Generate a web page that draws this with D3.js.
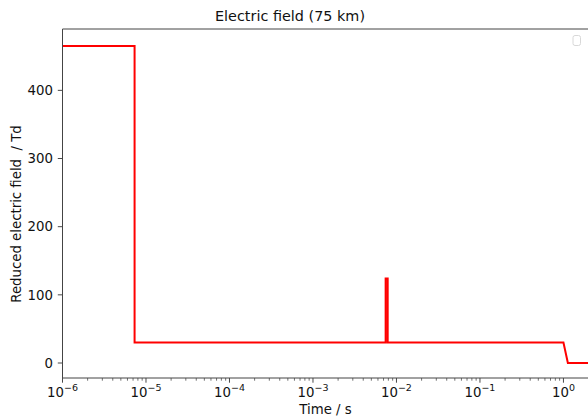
<!DOCTYPE html>
<html><head><meta charset="utf-8">
<script src="https://cdn.jsdelivr.net/npm/d3@7"></script>
<style>body{margin:0;background:#fff}svg{font-family:"DejaVu Sans",sans-serif}</style>
</head><body><svg id="c" width="588" height="419"></svg>
<script>
const times = [1e-6, 7.3e-6, 7.3e-6, 7.42e-3, 7.42e-3, 7.85e-3, 7.85e-3, 1.0, 1.13, 2.2];
const field = [465, 465, 30, 30, 124, 124, 30, 30, 0, 0];
const xTickExps = [-6, -5, -4, -3, -2, -1, 0];
const yTicks = [0, 100, 200, 300, 400];
const title = "Electric field (75 km)";
const xLabel = "Time / s";
const yLabel = "Reduced electric field  / Td";

const L = 62.5, R = 590, T = 29, B = 378;
const svg = d3.select("#c");
const x = d3.scaleLog().domain([1e-6, 2.08]).range([L, R]);
const y = d3.scaleLinear().domain([-22, 490]).range([B, T]);

const g = svg.append("g");
g.append("clipPath").attr("id","clip").append("rect").attr("x",L).attr("y",T).attr("width",R-L).attr("height",B-T);
g.append("path").datum(times.map((t,i)=>[t,field[i]]))
  .attr("clip-path","url(#clip)")
  .attr("fill","none").attr("stroke","#ff0000").attr("stroke-width",2).attr("stroke-linejoin","miter")
  .attr("d", d3.line().x(d=>x(d[0])).y(d=>y(d[1])));

const minor = [];
for (let e=-6;e<=0;e++) for (let k=2;k<=9;k++){const v=k*Math.pow(10,e); if (v<=2.08) minor.push(v);}
g.selectAll(".mn").data(minor).enter().append("line")
  .attr("x1",d=>x(d)).attr("x2",d=>x(d)).attr("y1",B).attr("y2",B+2.7)
  .attr("stroke","#333").attr("stroke-width",0.7);
xTickExps.forEach(e=>{
  const px = x(Math.pow(10,e));
  g.append("line").attr("x1",px).attr("x2",px).attr("y1",B).attr("y2",B+4.7).attr("stroke","#333").attr("stroke-width",0.9);
  const t = g.append("text").attr("x",px).attr("y",B+19).attr("text-anchor","middle").attr("font-size",13.3).attr("fill","#111");
  t.append("tspan").text("10");
  t.append("tspan").attr("dy",-6).attr("font-size",9.5).text(e<0?"\u2212"+(-e):String(e));
});
yTicks.forEach(v=>{
  const py = y(v);
  g.append("line").attr("x1",L-4.7).attr("x2",L).attr("y1",py).attr("y2",py).attr("stroke","#333").attr("stroke-width",0.9);
  g.append("text").attr("x",L-9.5).attr("y",py+4.7).attr("text-anchor","end").attr("font-size",13.3).attr("fill","#111").text(v);
});
g.append("line").attr("x1",L).attr("x2",L).attr("y1",T).attr("y2",B).attr("stroke","#444").attr("stroke-width",1);
g.append("line").attr("x1",L).attr("x2",R).attr("y1",B).attr("y2",B).attr("stroke","#444").attr("stroke-width",1);
g.append("line").attr("x1",L).attr("x2",R).attr("y1",T).attr("y2",T).attr("stroke","#444").attr("stroke-width",1);

g.append("rect").attr("x",573).attr("y",35.5).attr("width",7.5).attr("height",10).attr("rx",2)
  .attr("fill","#fff").attr("stroke","#d8d8d8").attr("stroke-width",1);

svg.append("text").attr("x",290).attr("y",21).attr("text-anchor","middle").attr("font-size",14.4).attr("fill","#111").text(title);
svg.append("text").attr("x",325.5).attr("y",414).attr("text-anchor","middle").attr("font-size",13.3).attr("fill","#111").text(xLabel);
svg.append("text").attr("transform","translate(21,214) rotate(-90)").attr("text-anchor","middle").attr("font-size",13.3).attr("fill","#111")
  .style("white-space","pre").text(yLabel);
</script></body></html>
